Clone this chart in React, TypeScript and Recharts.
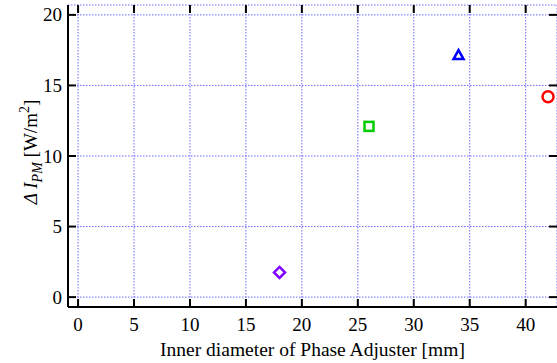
import React from 'react';
import {
  ScatterChart,
  Scatter,
  XAxis,
  YAxis,
  CartesianGrid,
} from 'recharts';

// readings from the picture
const xTicks = [0, 5, 10, 15, 20, 25, 30, 35, 40];
const yTicks = [0, 5, 10, 15, 20];
const diamondPts = [{ d: 18, v: 1.75 }];
const squarePts = [{ d: 26, v: 12.1 }];
const trianglePts = [{ d: 34, v: 17.15 }];
const circlePts = [{ d: 42, v: 14.2 }];

const W = 557;
const H = 363;
const TOP = 5;
const LEFT = 68;
const XAXIS_H = 56;
const PLOT_BOTTOM = H - XAXIS_H;
const PLOT_RIGHT = W;
const TICK_LEN = 8;
const FONT = '"Liberation Serif", "Times New Roman", serif';
const txt = { fontFamily: FONT };

const BottomTick = ({ x, y, payload }: any) => (
  <g>
    <line x1={x} x2={x} y1={PLOT_BOTTOM} y2={PLOT_BOTTOM - TICK_LEN} stroke="#000" strokeWidth={2} />
    <line x1={x} x2={x} y1={TOP} y2={TOP + TICK_LEN} stroke="#000" strokeWidth={2} />
    <text x={x} y={y} dy={18} textAnchor="middle" fontSize={19} style={txt} fill="#000">
      {payload.value}
    </text>
  </g>
);

const LeftTick = ({ x, y, payload }: any) => (
  <g>
    <line x1={LEFT} x2={LEFT + TICK_LEN} y1={y} y2={y} stroke="#000" strokeWidth={2} />
    <line x1={PLOT_RIGHT} x2={PLOT_RIGHT - TICK_LEN} y1={y} y2={y} stroke="#000" strokeWidth={2} />
    <text x={x} y={y} dy={6.5} textAnchor="end" fontSize={19} style={txt} fill="#000">
      {payload.value}
    </text>
  </g>
);

const YLabel = () => {
  const cx = 37;
  const cy = 152;
  return (
    <text
      x={cx}
      y={cy}
      transform={`rotate(-90, ${cx}, ${cy})`}
      textAnchor="middle"
      fontSize={19}
      style={txt}
      fill="#000"
    >
      <tspan fontStyle="italic">Δ I</tspan>
      <tspan fontStyle="italic" fontSize={14} dy={5}>PM</tspan>
      <tspan dy={-5}> [W/m</tspan>
      <tspan fontSize={14} dy={-8}>2</tspan>
      <tspan dy={8}>]</tspan>
    </text>
  );
};

const XLabel = ({ viewBox }: any) => (
  <text
    x={viewBox.x + viewBox.width / 2}
    y={356}
    textAnchor="middle"
    fontSize={19.5}
    style={txt}
    fill="#000"
  >
    Inner diameter of Phase Adjuster [mm]
  </text>
);

const Diamond = ({ cx, cy }: any) => (
  <path
    d={`M${cx},${cy - 5.5} L${cx + 5.5},${cy} L${cx},${cy + 5.5} L${cx - 5.5},${cy} Z`}
    fill="none"
    stroke="#7f00ff"
    strokeWidth={2.5}
  />
);

const Square = ({ cx, cy }: any) => (
  <rect x={cx - 4.5} y={cy - 4.5} width={9} height={9} fill="none" stroke="#00cc00" strokeWidth={2.5} />
);

const Triangle = ({ cx, cy }: any) => (
  <path
    d={`M${cx},${cy - 5} L${cx + 5},${cy + 4} L${cx - 5},${cy + 4} Z`}
    fill="none"
    stroke="#0000ff"
    strokeWidth={2.5}
  />
);

const Ring = ({ cx, cy }: any) => (
  <circle cx={cx} cy={cy} r={5.5} fill="none" stroke="#ff0000" strokeWidth={2.5} />
);

export default function App() {
  return (
    <div style={{ position: 'absolute', left: 0, top: 0, width: W, height: H, background: '#fff' }}>
      <ScatterChart width={W} height={H} margin={{ top: TOP, right: 0, bottom: 0, left: 0 }}>
        <CartesianGrid stroke="#6a6aff" strokeDasharray="1.5 1.5" strokeWidth={1} />
        <XAxis
          type="number"
          dataKey="d"
          domain={[-0.9, 42.8]}
          ticks={xTicks}
          allowDataOverflow
          height={XAXIS_H}
          tickSize={0}
          tickMargin={6}
          tick={<BottomTick />}
          axisLine={{ stroke: '#000', strokeWidth: 2 }}
          label={<XLabel />}
        />
        <XAxis
          xAxisId="top"
          orientation="top"
          type="number"
          dataKey="d"
          domain={[-0.9, 42.8]}
          height={0}
          tick={false}
          tickLine={false}
          axisLine={{ stroke: '#000', strokeWidth: 2 }}
        />
        <YAxis
          type="number"
          dataKey="v"
          domain={[-0.7, 20.7]}
          ticks={yTicks}
          allowDataOverflow
          width={LEFT}
          tickSize={0}
          tickMargin={6}
          tick={<LeftTick />}
          axisLine={{ stroke: '#000', strokeWidth: 2 }}
          label={<YLabel />}
        />
        <YAxis
          yAxisId="right"
          orientation="right"
          type="number"
          dataKey="v"
          domain={[-0.7, 20.7]}
          width={0}
          tick={false}
          tickLine={false}
          axisLine={{ stroke: '#000', strokeWidth: 2 }}
        />
        <Scatter data={diamondPts} shape={<Diamond />} isAnimationActive={false} />
        <Scatter data={squarePts} shape={<Square />} isAnimationActive={false} />
        <Scatter data={trianglePts} shape={<Triangle />} isAnimationActive={false} />
        <Scatter data={circlePts} shape={<Ring />} isAnimationActive={false} />
      </ScatterChart>
    </div>
  );
}
